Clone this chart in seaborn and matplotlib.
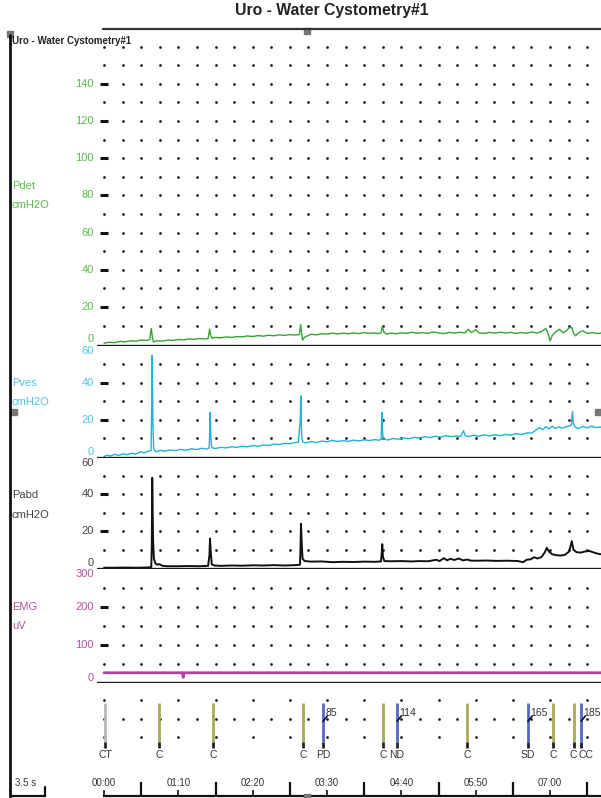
import numpy as np
import pandas as pd
import matplotlib
matplotlib.use("Agg")
import matplotlib.pyplot as plt
import seaborn as sns
from matplotlib.lines import Line2D
from matplotlib.patches import Rectangle

FIG_W, FIG_H = 601, 798
DPI = 100
FONT = ["Liberation Sans", "DejaVu Sans"]

# ---- traces (time in s, value) ----
PDET_T = [0, 5, 10, 15, 20, 25, 30, 35, 40, 43, 44.5, 45.5, 46.5, 50, 55, 60, 65, 70, 75, 80,
          85, 90, 95, 98, 99.5, 100.5, 101.5, 105, 110, 115, 120, 125, 130, 135, 140, 145, 150,
          155, 160, 165, 170, 175, 180, 184, 185.2, 186.2, 187, 189, 195, 200, 205, 210, 215,
          220, 225, 230, 235, 240, 245, 250, 255, 258, 261, 262, 263.5, 266, 270, 275, 280,
          285, 290, 295, 300, 305, 310, 315, 320, 325, 330, 335, 340, 343, 346, 350, 353, 358,
          363, 368, 373, 378, 383, 388, 393, 398, 403, 408, 412, 416, 418, 420, 422, 425, 429,
          432, 435, 438, 440.5, 442, 444, 447, 451, 455, 460, 464, 468]
PDET_V = [0.5, 1.0, 0.8, 1.5, 1.2, 1.8, 1.6, 2.2, 2.0, 2.4, 8.5, 4.0, 1.2, 1.8, 1.6, 2.2, 2.0,
          2.5, 2.3, 2.8, 2.6, 3.0, 2.8, 3.0, 8.2, 4.5, 3.2, 3.6, 3.4, 3.9, 3.6, 4.1, 3.9, 4.4,
          4.1, 4.6, 4.3, 4.8, 4.5, 5.0, 4.7, 5.1, 4.9, 5.2, 10.5, 5.5, 2.2, 3.8, 5.3, 5.0, 5.6,
          5.4, 5.9, 5.5, 5.9, 5.6, 6.0, 5.7, 6.2, 5.8, 6.0, 5.6, 6.2, 9.5, 6.5, 5.4, 5.9, 5.6,
          6.1, 5.8, 6.4, 5.9, 6.2, 5.8, 6.6, 6.0, 5.7, 6.3, 5.9, 6.4, 6.0, 8.0, 6.2, 7.8, 6.0,
          5.8, 6.3, 5.9, 6.4, 6.0, 6.3, 5.8, 6.2, 5.9, 6.5, 6.0, 6.8, 8.4, 6.0, 1.8, 4.5, 6.5,
          8.0, 6.2, 7.0, 8.8, 9.0, 6.0, 4.5, 6.2, 7.2, 5.8, 6.2, 5.7, 6.0]

PVES_T = [0, 3, 6, 10, 14, 18, 22, 26, 30, 34, 38, 42, 44.3, 45, 45.4, 46, 46.8, 49, 53, 57,
          62, 67, 72, 77, 82, 87, 92, 96, 99, 99.6, 100, 100.6, 101.5, 105, 110, 115, 120, 125,
          130, 135, 140, 145, 150, 155, 160, 165, 170, 175, 180, 183, 184.8, 185.3, 186, 187,
          190, 195, 200, 205, 210, 215, 220, 225, 230, 235, 240, 245, 250, 255, 259, 261, 261.6,
          262.4, 263.5, 267, 272, 277, 282, 287, 292, 297, 302, 307, 312, 317, 322, 327, 332,
          336, 338.5, 340, 343, 348, 353, 358, 363, 368, 373, 378, 383, 388, 393, 398, 403,
          407, 410, 413, 416, 419, 422, 425, 428, 432, 436, 440, 441.2, 442, 443.5, 447, 451,
          455, 459, 463, 468]
PVES_V = [0.0, 0.8, 0.3, 1.2, 0.6, 1.5, 1.0, 1.8, 1.4, 2.6, 2.0, 3.0, 3.2, 30, 55, 20, 4.0,
          2.6, 3.4, 2.9, 3.6, 3.2, 3.9, 3.4, 4.2, 3.8, 4.5, 4.1, 4.6, 14, 24, 10, 4.8, 4.4, 5.0,
          4.7, 5.3, 5.0, 5.6, 5.3, 6.0, 5.6, 6.3, 6.0, 6.8, 6.5, 7.2, 7.0, 7.6, 7.8, 20, 33, 12,
          8.0, 7.4, 8.2, 7.6, 8.4, 8.0, 8.8, 8.2, 8.6, 8.3, 8.9, 8.5, 9.1, 8.7, 9.2, 8.9, 9.3,
          24, 12, 9.5, 9.0, 9.8, 9.4, 10.1, 9.7, 10.4, 10.0, 10.8, 10.3, 11.0, 10.6, 11.3, 10.8,
          11.2, 11.0, 14.0, 11.5, 10.8, 11.6, 11.0, 11.8, 11.2, 11.9, 11.3, 12.0, 11.6, 12.4,
          12.0, 12.8, 12.8, 14.5, 15.8, 14.6, 16.2, 15.0, 16.5, 15.3, 16.0, 15.5, 16.3, 17.0,
          24.5, 18.0, 16.0, 15.2, 16.4, 15.6, 16.5, 15.8, 16.0]

PABD_T = [0, 10, 20, 30, 40, 44.5, 45, 45.4, 46.2, 47, 48.5, 50, 52, 55, 60, 70, 80, 90, 98,
          99.3, 99.8, 100.6, 101.5, 104, 110, 120, 130, 140, 150, 160, 170, 180, 184.5, 185,
          185.5, 186.3, 187, 189, 195, 205, 215, 225, 235, 245, 255, 260.8, 261.5, 262, 262.7,
          264, 270, 280, 290, 297, 305, 313, 316, 320, 323, 326, 330, 334, 338, 342, 346, 352,
          360, 370, 380, 390, 394.5, 398, 402, 405, 408, 412, 415, 417, 419, 422, 426, 430,
          434, 438, 440.5, 442, 445, 449, 453, 457, 461, 465, 468]
PABD_V = [0.2, 0.2, 0.3, 0.2, 0.3, 0.5, 12, 49, 15, 5.0, 2.5, 1.8, 2.2, 1.2, 1.0, 1.0, 1.1,
          1.0, 1.2, 7, 16, 8, 2.0, 1.4, 1.2, 1.4, 1.3, 1.5, 1.4, 1.6, 1.4, 1.6, 1.8, 10, 24, 12,
          5.0, 3.8, 3.5, 3.6, 3.2, 3.4, 3.3, 3.5, 3.4, 3.6, 8, 13, 6, 3.8, 3.7, 3.8, 3.6, 3.8,
          3.7, 4.5, 3.8, 5.4, 4.2, 5.0, 4.4, 5.2, 4.2, 4.6, 4.0, 4.0, 4.1, 3.9, 4.0, 3.8, 3.2,
          4.5, 4.8, 5.9, 5.2, 6.0, 8.5, 11, 9.0, 7.5, 7.0, 6.8, 7.2, 9.0, 14.6, 10.0, 8.6, 8.4,
          9.0, 9.3, 8.5, 7.8, 7.5]

EMG_T = [0, 74, 74.6, 75.3, 468]
EMG_V = [26, 26, 14, 26, 26]

# ---- event markers ----
EVENT_T = [1, 51.8, 102.6, 187.4, 206.2, 262.7, 275.9, 341.8, 399.2, 422.8, 442.6, 449.2]
EVENT_LABEL = ["CT", "C", "C", "C", "PD", "C", "ND", "C", "SD", "C", "C", "CC"]
EVENT_KIND = ["start", "c", "c", "c", "v", "c", "v", "c", "v", "c", "c", "v"]
EVENT_VOL = ["", "", "", "", "85", "", "114", "", "165", "", "", "185"]

TIME_LABEL_T = [0, 70, 140, 210, 280, 350, 420]
TIME_LABELS = ["00:00", "01:10", "02:20", "03:30", "04:40", "05:50", "07:00"]

GREEN, GREEN_L = "#34a534", "#5cba4c"
CYAN, CYAN_L = "#1cb3d6", "#52c4e2"
MAG, MAG_L = "#b23ea6", "#b5509f"
OLIVE, BLUE, GREY = "#a8aa55", "#5566cc", "#b8b8b8"

XLIM = (-6.6, 468)
COL_STEP = 17.5

sns.set_style("white")
plt.rcParams["font.family"] = FONT

fig = plt.figure(figsize=(FIG_W / DPI, FIG_H / DPI), dpi=DPI)


def px_axes(left, top, right, bottom):
    return fig.add_axes([left / FIG_W, 1 - bottom / FIG_H,
                         (right - left) / FIG_W, (bottom - top) / FIG_H])


def clean(ax):
    for s in ["top", "right", "left", "bottom"]:
        ax.spines[s].set_visible(False)
    ax.set_xticks([])
    ax.set_yticks([])
    ax.set_xlabel("")
    ax.set_ylabel("")
    ax.set_xlim(*XLIM)


cols = np.arange(0, XLIM[1], COL_STEP)

panels = [
    dict(top=40, bot=346, ymax=163.6, labels=list(range(0, 141, 20)), step=10, t=PDET_T, v=PDET_V,
         c=GREEN, lc=GREEN_L, name=("Pdet", "cmH2O"), name_y=(186, 205), lw=1.0),
    dict(top=346, bot=457.5, ymax=60, labels=[0, 20, 40, 60], step=10, t=PVES_T, v=PVES_V,
         c=CYAN, lc=CYAN_L, name=("Pves", "cmH2O"), name_y=(383, 402), lw=1.0),
    dict(top=457.5, bot=569, ymax=60, labels=[0, 20, 40, 60], step=10, t=PABD_T, v=PABD_V,
         c="#111111", lc="#444444", name=("Pabd", "cmH2O"), name_y=(495, 515), lw=1.4),
    dict(top=569, bot=683, ymax=300, labels=[0, 100, 200, 300], step=50, t=EMG_T, v=EMG_V,
         c=MAG, lc=MAG_L, name=("EMG", "uV"), name_y=(607, 626), lw=2.0),
]

for p in panels:
    ax = px_axes(97, p["top"], 601, p["bot"])
    ax.patch.set_alpha(0)
    rows = np.arange(p["step"], p["ymax"] - 1, p["step"])
    gx, gy = np.meshgrid(cols, rows)
    ax.scatter(gx.ravel(), gy.ravel(), s=4, color="#222222", linewidths=0, zorder=1)
    df = pd.DataFrame({"t": p["t"], "v": p["v"]})
    sns.lineplot(data=df, x="t", y="v", ax=ax, color=p["c"], lw=p["lw"],
                 estimator=None, sort=False, zorder=3)
    clean(ax)
    ax.set_ylim(-0.5 if p["ymax"] < 100 else -1, p["ymax"])
    ax.axhline(ax.get_ylim()[0], color="#1a1a1a", lw=2.4, zorder=4)
    tr = ax.get_yaxis_transform()
    inner = [v for v in p["labels"] if 0 < v < p["ymax"] - 5]
    ax.hlines(inner, 0.006, 0.022, transform=tr, color="#111111", lw=2.2, zorder=2)
    for v in p["labels"]:
        va = "center"
        if v == 0:
            va = "bottom"
        elif v >= p["ymax"] - 5:
            va = "top"
        ax.text(-0.006, v, str(v), transform=tr, ha="right", va=va,
                fontsize=8, color=p["lc"])
    for txt, y in zip(p["name"], p["name_y"]):
        fig.text(12 / FIG_W, 1 - y / FIG_H, txt, fontsize=8, color=p["lc"],
                 ha="left", va="center")

# ---- event markers ----
axm = px_axes(97, 683, 601, 770)
axm.patch.set_alpha(0)
cols35 = np.arange(0, XLIM[1], 2 * COL_STEP)
for yrow, cc in [(0.805, cols35), (0.586, cols), (0.38, cols35)]:
    axm.scatter(cc, np.full(len(cc), yrow), s=4, color="#222222", linewidths=0)
for i, (t, lab, kind, vol) in enumerate(zip(EVENT_T, EVENT_LABEL, EVENT_KIND, EVENT_VOL)):
    col = {"start": GREY, "c": OLIVE, "v": BLUE}[kind]
    axm.vlines(t, 0.32, 0.77, color=col, lw=2.0)
    axm.vlines(t, 0.25, 0.32, color="#222222", lw=2.0)
    # the last two marks sit almost on top of each other: push their labels apart
    ha, dx = "center", 0
    if i == len(EVENT_T) - 2:
        ha, dx = "right", 2.5
    elif i == len(EVENT_T) - 1:
        ha, dx = "left", -2.5
    axm.text(t + dx, 0.23, lab, ha=ha, va="top", fontsize=7.5, color="#333333")
    if vol:
        axm.plot([t, t + 4], [0.56, 0.62], color="#111111", lw=1.2)
        axm.text(t + 2.2, 0.66, vol, ha="left", va="center", fontsize=7.5, color="#333333")
clean(axm)
axm.set_ylim(0, 1)

# ---- time axis ----
axt = px_axes(97, 765, 601, 796)
axt.patch.set_alpha(0)
clean(axt)
axt.set_ylim(0, 1)
axt.spines["bottom"].set_visible(True)
axt.spines["bottom"].set_linewidth(1.6)
axt.spines["bottom"].set_color("#111111")
axt.spines["bottom"].set_bounds(0, XLIM[1])
axt.set_xticks(np.arange(2 * COL_STEP, XLIM[1], 4 * COL_STEP))
axt.set_xticks(TIME_LABEL_T, minor=True)
axt.tick_params(axis="x", which="major", direction="in", length=10, width=1.6,
                color="#111111", labelbottom=False, bottom=True)
axt.tick_params(axis="x", which="minor", direction="in", length=4, width=1.2,
                color="#111111", labelbottom=False, bottom=True)
for t, lab in zip(TIME_LABEL_T, TIME_LABELS):
    axt.text(t, 0.42, lab, transform=axt.get_xaxis_transform(), ha="center",
             va="center", fontsize=7, color="#333333")


# ---- frame decorations ----
def fx(x):
    return x / FIG_W


def fy(y):
    return 1 - y / FIG_H


fig.text(fx(332), fy(11), "Uro - Water Cystometry#1", ha="center", va="center",
         fontsize=11.3, fontweight="bold", color="#222222")
fig.add_artist(Line2D([fx(103), fx(601)], [fy(29), fy(29)], color="#333333", lw=1.6))
fig.add_artist(Line2D([fx(10), fx(10)], [fy(35), fy(797)], color="#111111", lw=2.0))
fig.text(fx(12), fy(41), "Uro - Water Cystometry#1", ha="left", va="center",
         fontsize=7, fontweight="bold", color="#222222")
fig.add_artist(Line2D([fx(12), fx(45)], [fy(796), fy(796)], color="#111111", lw=1.6))
fig.add_artist(Line2D([fx(45), fx(45)], [fy(796), fy(787)], color="#111111", lw=1.6))
fig.text(fx(15), fy(783), "3.5 s", ha="left", va="center", fontsize=7, color="#333333")
for (x, y) in [(10, 34), (14, 412), (307, 31), (307, 797), (598, 412)]:
    fig.add_artist(Rectangle((fx(x - 3), fy(y + 3)), 6 / FIG_W, 6 / FIG_H,
                             color="#777777", transform=fig.transFigure))

fig.savefig("out.png", dpi=DPI)
